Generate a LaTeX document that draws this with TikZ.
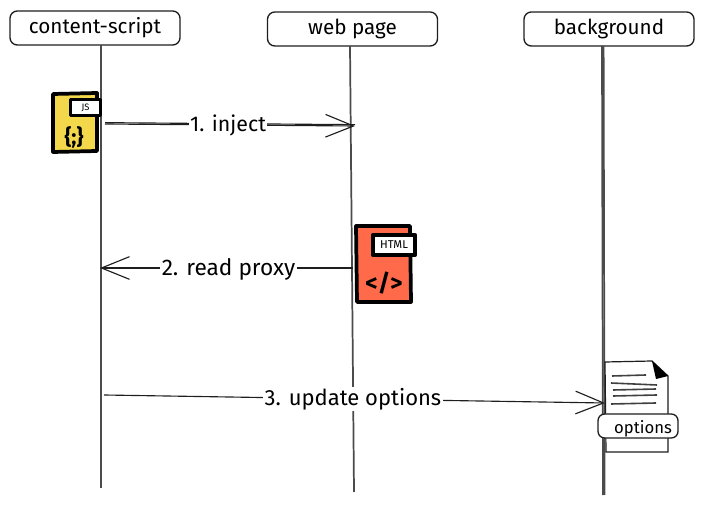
\documentclass[tikz,border=0pt]{standalone}
\usepackage{fontspec}
\setmainfont{Fira Sans}
\usetikzlibrary{arrows.meta}
\definecolor{jsyellow}{HTML}{F2D84A}
\definecolor{htmlred}{HTML}{FF6B4A}
\definecolor{inkline}{HTML}{1E1E1E}
\tikzset{
  actor/.style={draw=inkline,line width=1pt,fill=white,rounded corners=5.5pt,minimum width=127.5pt,minimum height=25.5pt,inner sep=0pt,font=\fontsize{15.5}{17}\selectfont},
  lifeline/.style={draw=inkline!80,line width=1.3pt},
  msg/.style={draw=inkline,line width=.85pt},
  msgtip/.style={draw=inkline,line width=.85pt,-{Straight Barb[length=21pt,width=17pt,line width=.85pt]}},
  msglabel/.style={fill=white,inner sep=1pt,font=\fontsize{16}{18}\selectfont},
  filebox/.style={draw=black,line width=2.8pt,line join=round},
  tagbox/.style={draw=black,fill=white,line width=2.8pt,inner sep=0pt,line join=round},
  docline/.style={draw=inkline!85,line width=1.2pt},
}
\begin{document}
\begin{tikzpicture}[x=.75pt,y=-.75pt]
\useasboundingbox (0,0) rectangle (703,505);
% actors
\node[actor] (cs) at (95,28) {content-script};
\node[actor] (wp) at (352.5,29) {web page};
\node[actor] (bg) at (609,29) {background};
% lifeline ends
\coordinate (csend) at (101,488);
\coordinate (wpend) at (354,492);
\coordinate (bgend) at (603,495);
\coordinate (cstop) at (101,45);
\coordinate (wptop) at (350,46);
\coordinate (bgtop) at (602,46);
\draw[lifeline] (cstop) -- (csend);
\draw[lifeline] (wptop) -- (wpend);
\draw[lifeline] (bgtop) -- (bgend);
\draw[lifeline] ([xshift=1.2pt]bgtop) -- ([xshift=1.2pt]bgend);
% JS file icon
\path[filebox,fill=jsyellow] (53,94) -- (97,93) -- (97,151) -- (53,152) -- cycle;
\node[tagbox,minimum width=22.5pt,minimum height=12pt,font=\fontsize{7}{8}\selectfont] (jstag) at (85.5,107.5) {JS};
\node[inner sep=0pt,font=\bfseries\fontsize{16}{16}\selectfont] (jscode) at (74,137) {\{;\}};
% HTML file icon
\path[filebox,fill=htmlred] (356,226) -- (410,226) -- (411,302) -- (357,302) -- cycle;
\node[tagbox,minimum width=32pt,minimum height=15pt,font=\fontsize{8.5}{10}\selectfont] (htmltag) at (394,245) {HTML};
\node[inner sep=0pt,font=\bfseries\fontsize{18}{18}\selectfont] (htmlcode) at (384,283) {</>};
% document icon
\path[draw=inkline,line width=.9pt,fill=white] (605,362) -- (652,361) -- (668,376) -- (668,452) -- (606,452) -- cycle;
\path[fill=black] (652,361) -- (668,376) -- (656,379) -- cycle;
\draw[docline] (612,376) -- (646,375);
\draw[docline] (611,383) -- (657,385);
\draw[docline] (613,390) -- (656,389);
\draw[docline] (613,396) -- (657,395);
\draw[docline] (611,404) -- (656,403);
% messages
\coordinate (m1a) at (105,124);
\coordinate (m1b) at (355,126);
\coordinate (m2a) at (353,268);
\coordinate (m2b) at (100,268);
\coordinate (m3a) at (104,395);
\coordinate (m3b) at (605,403);
\draw[msgtip] (m1a) -- (m1b);
\draw[msg] ([yshift=1pt]m1a) -- ([yshift=1pt]m1b);
\draw[msgtip] (m2a) -- (m2b);
\draw[msgtip] (m3a) -- (m3b);
\node[msglabel] (l1) at (228,125) {1. inject};
\node[msglabel,font=\fontsize{17}{19}\selectfont] (l2) at (228.5,269) {2. read proxy};
\node[msglabel,font=\fontsize{16.5}{19}\selectfont] (l3) at (353,399) {3. update options};
% options tag
\node[draw=inkline,line width=1pt,fill=white,rounded corners=5pt,minimum width=60pt,minimum height=18pt,inner sep=0pt] (opt) at (638,426) {};
\node[inner sep=0pt,font=\fontsize{12.5}{14}\selectfont] (opttext) at (643,429) {options};
\end{tikzpicture}
\end{document}
